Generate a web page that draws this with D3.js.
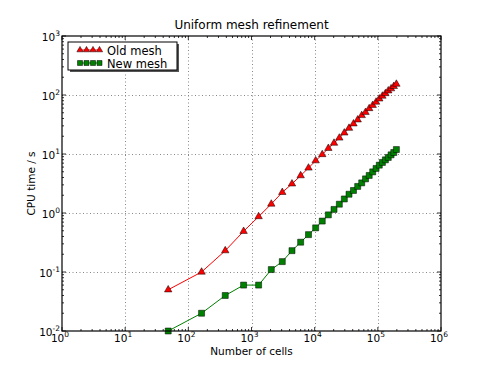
<!DOCTYPE html>
<html>
<head>
<meta charset="utf-8">
<script src="https://cdn.jsdelivr.net/npm/d3@7"></script>
<style>
  body { margin: 0; background: #fff; }
  text { font-family: "DejaVu Sans", sans-serif; fill: #000; }
</style>
</head>
<body>
<div id="chart"></div>
<script>
// number of cells for each refinement step
var cells = [48, 162, 384, 750, 1296, 2058, 3072, 4374, 6000, 7986, 10368, 13182,
    16464, 20250, 24576, 29478, 34992, 41154, 48000, 55566, 63888, 73002, 82944,
    93750, 105456, 118098, 131712, 146334, 162000, 178746, 196608];

// CPU time in seconds
var oldMesh = [0.05, 0.10, 0.23, 0.49, 0.87, 1.42, 2.24, 3.12, 4.3, 5.8, 7.7, 9.8,
    12.5, 15.3, 18.7, 22.8, 27.4, 32.5, 38, 45, 51, 59, 67, 76, 86, 96, 106, 118,
    128, 140, 153];
var newMesh = [0.01, 0.02, 0.04, 0.06, 0.06, 0.11, 0.15, 0.23, 0.32, 0.43, 0.56,
    0.73, 0.93, 1.15, 1.41, 1.73, 2.08, 2.41, 2.82, 3.24, 3.79, 4.33, 4.98, 5.69,
    6.47, 7.19, 7.96, 8.74, 9.68, 10.6, 11.9];

var xTicks = [0, 1, 2, 3, 4, 5, 6];   // exponents
var yTicks = [-2, -1, 0, 1, 2, 3];

var width = 491, height = 368;
var margin = {left: 62, right: 50, top: 36, bottom: 37};

var svg = d3.select("#chart").append("svg")
    .attr("width", width)
    .attr("height", height);

var x = d3.scaleLog()
    .domain([1, 1e6])
    .range([margin.left, width - margin.right]);

var y = d3.scaleLog()
    .domain([0.01, 1000])
    .range([height - margin.bottom, margin.top]);

var x0 = x.range()[0], x1 = x.range()[1];
var y0 = y.range()[0], y1 = y.range()[1];

// grid
var grid = svg.append("g")
    .attr("stroke", "#888")
    .attr("stroke-width", 1)
    .attr("stroke-dasharray", "1,2.5");
xTicks.slice(1, -1).forEach(function (e) {
    var px = Math.round(x(Math.pow(10, e))) + 0.5;
    grid.append("line").attr("x1", px).attr("x2", px).attr("y1", y1).attr("y2", y0);
});
yTicks.slice(1, -1).forEach(function (e) {
    var py = Math.round(y(Math.pow(10, e))) + 0.5;
    grid.append("line").attr("x1", x0).attr("x2", x1).attr("y1", py).attr("y2", py);
});

// ticks on all four sides, pointing inward
var ticks = svg.append("g").attr("stroke", "#000").attr("stroke-width", 0.8);
function minors(lo, hi) {
    var out = [];
    for (var e = lo; e < hi; e++)
        for (var k = 2; k <= 9; k++) out.push(k * Math.pow(10, e));
    return out;
}
xTicks.forEach(function (e) {
    var px = x(Math.pow(10, e));
    ticks.append("line").attr("x1", px).attr("x2", px).attr("y1", y0).attr("y2", y0 - 4);
    ticks.append("line").attr("x1", px).attr("x2", px).attr("y1", y1).attr("y2", y1 + 4);
});
minors(0, 6).forEach(function (v) {
    var px = x(v);
    ticks.append("line").attr("x1", px).attr("x2", px).attr("y1", y0).attr("y2", y0 - 2);
    ticks.append("line").attr("x1", px).attr("x2", px).attr("y1", y1).attr("y2", y1 + 2);
});
yTicks.forEach(function (e) {
    var py = y(Math.pow(10, e));
    ticks.append("line").attr("x1", x0).attr("x2", x0 + 4).attr("y1", py).attr("y2", py);
    ticks.append("line").attr("x1", x1).attr("x2", x1 - 4).attr("y1", py).attr("y2", py);
});
minors(-2, 3).forEach(function (v) {
    var py = y(v);
    ticks.append("line").attr("x1", x0).attr("x2", x0 + 2).attr("y1", py).attr("y2", py);
    ticks.append("line").attr("x1", x1).attr("x2", x1 - 2).attr("y1", py).attr("y2", py);
});

// data lines + markers
function drawSeries(vals, color, shape) {
    var line = d3.line()
        .x(function (d, i) { return x(cells[i]); })
        .y(function (d) { return y(d); });
    var g = svg.append("g");
    g.append("path")
        .datum(vals)
        .attr("fill", "none")
        .attr("stroke", color)
        .attr("stroke-width", 1)
        .attr("d", line);
    g.selectAll("path.mk")
        .data(vals)
        .enter().append("path")
        .attr("class", "mk")
        .attr("transform", function (d, i) {
            return "translate(" + x(cells[i]) + "," + y(d) + ")";
        })
        .attr("d", d3.symbol().type(shape).size(shape === d3.symbolSquare ? 36 : 24))
        .attr("fill", color)
        .attr("stroke", "#000")
        .attr("stroke-width", 0.5);
}
drawSeries(oldMesh, "#ff0000", d3.symbolTriangle);
drawSeries(newMesh, "#008000", d3.symbolSquare);

// frame
svg.append("rect")
    .attr("x", x0).attr("y", y1)
    .attr("width", x1 - x0).attr("height", y0 - y1)
    .attr("fill", "none")
    .attr("stroke", "#000")
    .attr("stroke-width", 1.2);

// tick labels with superscript exponents
function powLabel(sel, e) {
    sel.append("tspan").text("10");
    sel.append("tspan").attr("dy", -5).attr("font-size", 7.5).text(e);
}
xTicks.forEach(function (e) {
    var t = svg.append("text")
        .attr("x", x(Math.pow(10, e)) - 2)
        .attr("y", y0 + 11)
        .attr("text-anchor", "middle")
        .attr("font-size", 10.5);
    powLabel(t, e);
});
yTicks.forEach(function (e) {
    var t = svg.append("text")
        .attr("x", x0 - 2)
        .attr("y", y(Math.pow(10, e)) + 5)
        .attr("text-anchor", "end")
        .attr("font-size", 10.5);
    powLabel(t, e);
});

// title and axis labels
svg.append("text")
    .attr("x", (x0 + x1) / 2).attr("y", 29)
    .attr("text-anchor", "middle")
    .attr("font-size", 12)
    .text("Uniform mesh refinement");
svg.append("text")
    .attr("x", (x0 + x1) / 2).attr("y", 355)
    .attr("text-anchor", "middle")
    .attr("font-size", 10.5)
    .text("Number of cells");
svg.append("text")
    .attr("transform", "translate(35," + (y0 + y1) / 2 + ") rotate(-90)")
    .attr("text-anchor", "middle")
    .attr("font-size", 10.5)
    .text("CPU time / s");

// legend with drop shadow
var lg = svg.append("g");
lg.append("rect").attr("x", 70).attr("y", 44).attr("width", 109).attr("height", 28)
    .attr("fill", "#555");
lg.append("rect").attr("x", 68).attr("y", 42).attr("width", 109).attr("height", 28)
    .attr("fill", "#fff").attr("stroke", "#000").attr("stroke-width", 1);
var entries = [
    {name: "Old mesh", color: "#ff0000", shape: d3.symbolTriangle, yy: 50},
    {name: "New mesh", color: "#008000", shape: d3.symbolSquare, yy: 63}
];
entries.forEach(function (en) {
    lg.append("line").attr("x1", 78).attr("x2", 101).attr("y1", en.yy).attr("y2", en.yy)
        .attr("stroke", en.color).attr("stroke-width", 1);
    [80, 86.5, 93, 99.5].forEach(function (mx) {
        lg.append("path")
            .attr("transform", "translate(" + mx + "," + en.yy + ")")
            .attr("d", d3.symbol().type(en.shape).size(en.shape === d3.symbolSquare ? 25 : 17))
            .attr("fill", en.color).attr("stroke", "#000").attr("stroke-width", 0.5);
    });
    lg.append("text").attr("x", 107).attr("y", en.yy + 4.5)
        .attr("font-size", 11.5).text(en.name);
});
</script>
</body>
</html>
